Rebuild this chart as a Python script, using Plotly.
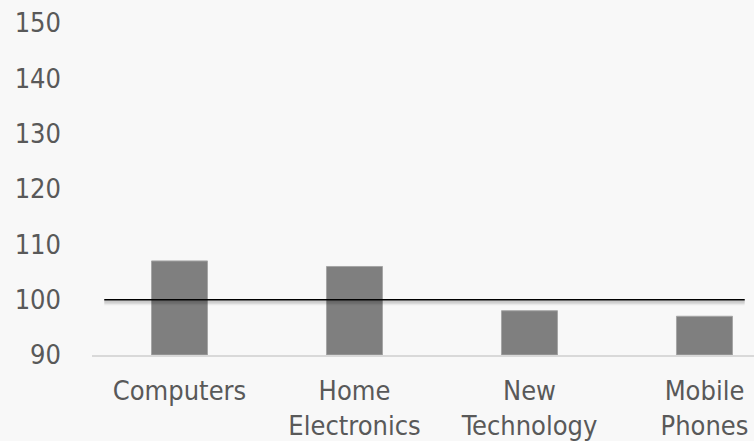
import plotly.graph_objects as go

categories = ["Computers", "Home<br>Electronics", "New<br>Technology", "Mobile<br>Phones"]
values = [107, 106, 98, 97]
target = 100
target_span = [-0.43, 3.23]
y_ticks = [90, 100, 110, 120, 130, 140, 150]

xpos = list(range(len(categories)))

fig = go.Figure()
fig.add_trace(go.Bar(
    x=xpos, y=[v - 90 for v in values], base=90,
    marker=dict(color="#7f7f7f", line=dict(color="#a6a6a6", width=1)),
    width=0.32, hoverinfo="skip",
))

# soft shadow under the target line
for off, alpha in [(0.2, 0.10), (0.4, 0.07), (0.6, 0.05), (0.8, 0.03)]:
    fig.add_trace(go.Scatter(
        x=target_span, y=[target - off, target - off], mode="lines",
        line=dict(color=f"rgba(0,0,0,{alpha})", width=3), hoverinfo="skip"))
fig.add_trace(go.Scatter(
    x=target_span, y=[target, target], mode="lines",
    line=dict(color="#000000", width=1.5), hoverinfo="skip"))

fig.update_layout(
    width=754, height=441,
    margin=dict(l=92, r=0, t=23, b=86),
    paper_bgcolor="#f8f8f8", plot_bgcolor="#f8f8f8",
    showlegend=False,
    font=dict(family="DejaVu Sans Condensed", size=27, color="#595959"),
    xaxis=dict(
        tickmode="array", tickvals=xpos, ticktext=categories,
        range=[-0.5, 3.283], showgrid=False, zeroline=False,
        showline=True, linecolor="#d9d9d9", linewidth=1.5,
        ticks="", fixedrange=True, ticklabelstandoff=11,
    ),
    yaxis=dict(
        range=[90, 150], tickvals=y_ticks, showgrid=False, zeroline=False,
        showline=False, ticks="", ticklabelstandoff=30,
    ),
)

fig.write_html("out.html")
